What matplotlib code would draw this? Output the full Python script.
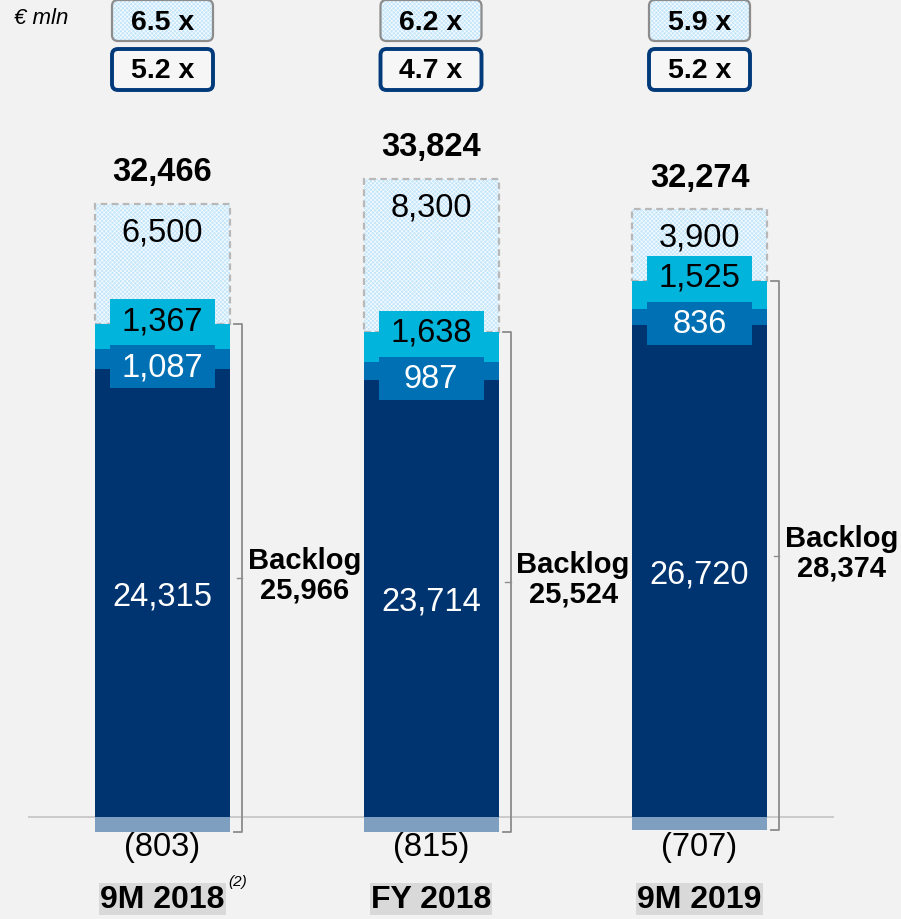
import matplotlib
matplotlib.use('Agg')
import matplotlib.pyplot as plt
from matplotlib.patches import FancyBboxPatch, Rectangle
import numpy as np

# ---------------- data ----------------
categories = ['9M 2018', 'FY 2018', '9M 2019']
footnotes = ['(2)', '', '']
core = [24315, 23714, 26720]          # dark navy
mid = [1087, 987, 836]                # medium blue
upper = [1367, 1638, 1525]            # cyan
pipeline = [6500, 8300, 3900]         # light hatched
negative = [-803, -815, -707]         # below zero
totals = [32466, 33824, 32274]
backlog = [25966, 25524, 28374]
mult_top = ['6.5 x', '6.2 x', '5.9 x']
mult_bottom = ['5.2 x', '4.7 x', '5.2 x']
unit_label = '€ mln'

# ---------------- style ----------------
plt.rcParams['font.family'] = ['Liberation Sans', 'DejaVu Sans']
plt.rcParams['hatch.linewidth'] = 0.4
BG = '#f2f2f2'
NAVY = '#003470'
MID = '#0070b4'
CYAN = '#00b4dc'
LIGHT = '#c4e6fb'
NEG = '#7f9fc0'
GRAY = '#b8b8b8'
BRK = '#8c8c8c'
HATCH = 'x' * 8

W, H = 901, 920
fig = plt.figure(figsize=(W / 100, H / 100), dpi=100)
fig.patch.set_facecolor(BG)
ax = fig.add_axes([0, 0, 1, 1])
ax.axis('off')
PXU = 0.01843                  # pixels per € mln
SP = 268.5                     # pixels per category
ax.set_xlim(-162.5 / SP, (W - 162.5) / SP)
ax.set_ylim(-102 / PXU, (H - 102) / PXU)

ov = fig.add_axes([0, 0, 1, 1], zorder=5)
ov.axis('off')
ov.patch.set_alpha(0)
ov.set_xlim(0, W)
ov.set_ylim(H, 0)

x = np.arange(len(categories))
bw = 135 / SP
core_a = np.array(core); mid_a = np.array(mid); up_a = np.array(upper)
pipe_a = np.array(pipeline); neg_a = np.array(negative)
b2 = core_a + mid_a
b3 = b2 + up_a
b4 = b3 + pipe_a

def dx(px):
    return px / SP

def dy(px):
    return px / PXU

# baseline
ax.hlines(0, x[0] - 0.5, x[-1] + 0.5, color='#c4c4c4', lw=1.2, zorder=1)

# bars
ax.bar(x, core_a, bw, color=NAVY, zorder=2)
ax.bar(x, mid_a, bw, bottom=core_a, color=MID, zorder=2)
ax.bar(x, pipe_a, bw, bottom=b3, color=LIGHT, edgecolor='white', hatch=HATCH, lw=0, zorder=2)
ax.bar(x, pipe_a, bw, bottom=b3, fill=False, edgecolor=GRAY, ls=(0, (3, 2)), lw=1.6, zorder=2.1)
ax.bar(x, up_a, bw, bottom=b2, color=CYAN, zorder=2.2)
ax.bar(x, neg_a, bw, color=NEG, zorder=2)

FS = 23.5
lab_w = dx(105)
lab_h = dy(43)
for i in range(len(x)):
    # core label
    ax.text(x[i], core_a[i] / 2 - dy(3), f'{core[i]:,}', ha='center', va='center',
            color='white', fontsize=FS, zorder=4)
    # mid label with box
    my = core_a[i] + 0.2 * mid_a[i] - dy(2)
    ax.add_patch(Rectangle((x[i] - lab_w / 2, my - lab_h / 2), lab_w, lab_h,
                           color=MID, lw=0, zorder=3))
    ax.text(x[i], my, f'{mid[i]:,}', ha='center', va='center', color='white',
            fontsize=FS, zorder=4)
    # upper label with box
    uy = my + dy(46)
    ax.add_patch(Rectangle((x[i] - lab_w / 2, uy - lab_h / 2), lab_w, lab_h,
                           color=CYAN, lw=0, zorder=3.1))
    ax.text(x[i], uy, f'{upper[i]:,}', ha='center', va='center', color='black',
            fontsize=FS, zorder=4)
    # pipeline label
    ax.text(x[i], b4[i] - dy(28), f'{pipeline[i]:,}', ha='center', va='center',
            color='black', fontsize=FS, zorder=4)
    # totals
    ax.text(x[i], b4[i] + dy(32), f'{totals[i]:,}', ha='center', va='center',
            color='black', fontsize=FS, fontweight='bold', zorder=4)
    # negative label
    ax.text(x[i], -dy(30), f'({abs(negative[i]):,})', ha='center', va='center',
            color='black', fontsize=FS, zorder=4)
    # category label
    ax.text(x[i], -dy(82), categories[i], ha='center', va='center', color='black',
            fontsize=23, fontweight='bold', zorder=4,
            bbox=dict(boxstyle='square,pad=0.03', fc='#d9d9d9', ec='none'))
    if footnotes[i]:
        ax.text(x[i] + dx(75), -dy(64), footnotes[i], ha='center', va='center',
                fontsize=11, style='italic', zorder=4)

    # backlog bracket
    xb = x[i] + bw / 2 + dx(12)
    yt = b3[i]
    ybm = neg_a[i]
    ym = (yt + ybm) / 2
    hook = dx(8)
    ax.plot([xb - hook, xb, xb, xb - hook], [yt, yt, ybm, ybm], color=BRK, lw=1.3,
            solid_joinstyle='round', zorder=3)
    ax.plot([xb, xb - dx(5)], [ym, ym], color=BRK, lw=1.0, zorder=3)
    ax.text(xb + dx(6), ym + dy(3), f'Backlog\n{backlog[i]:,}', ha='left', va='center',
            multialignment='center', fontsize=21, fontweight='bold', linespacing=1.08,
            zorder=4)

    # multiple boxes at top
    cx = ax.transData.transform((x[i], 0))[0]
    bwp, bhp = 101, 41
    for cy, txt, kind in [(21.5, mult_top[i], 'top'), (70.5, mult_bottom[i], 'bot')]:
        if kind == 'top':
            ov.add_patch(FancyBboxPatch((cx - bwp / 2, cy - bhp / 2), bwp, bhp,
                                        boxstyle='round,pad=0,rounding_size=6',
                                        fc=LIGHT, ec='white', hatch=HATCH, lw=0))
            ov.add_patch(FancyBboxPatch((cx - bwp / 2, cy - bhp / 2), bwp, bhp,
                                        boxstyle='round,pad=0,rounding_size=6',
                                        fc='none', ec='#8c8c8c', lw=1.6))
        else:
            ov.add_patch(FancyBboxPatch((cx - bwp / 2, cy - bhp / 2), bwp, bhp,
                                        boxstyle='round,pad=0,rounding_size=6',
                                        fc='#f6f6f6', ec='#003a7a', lw=2.8))
        ov.text(cx, cy + 1, txt, ha='center', va='center', fontsize=20.5,
                fontweight='bold', color='black')

ov.text(14, 18, unit_label, ha='left', va='center', fontsize=16, style='italic')

fig.savefig('out.png', dpi=100, facecolor=BG)
